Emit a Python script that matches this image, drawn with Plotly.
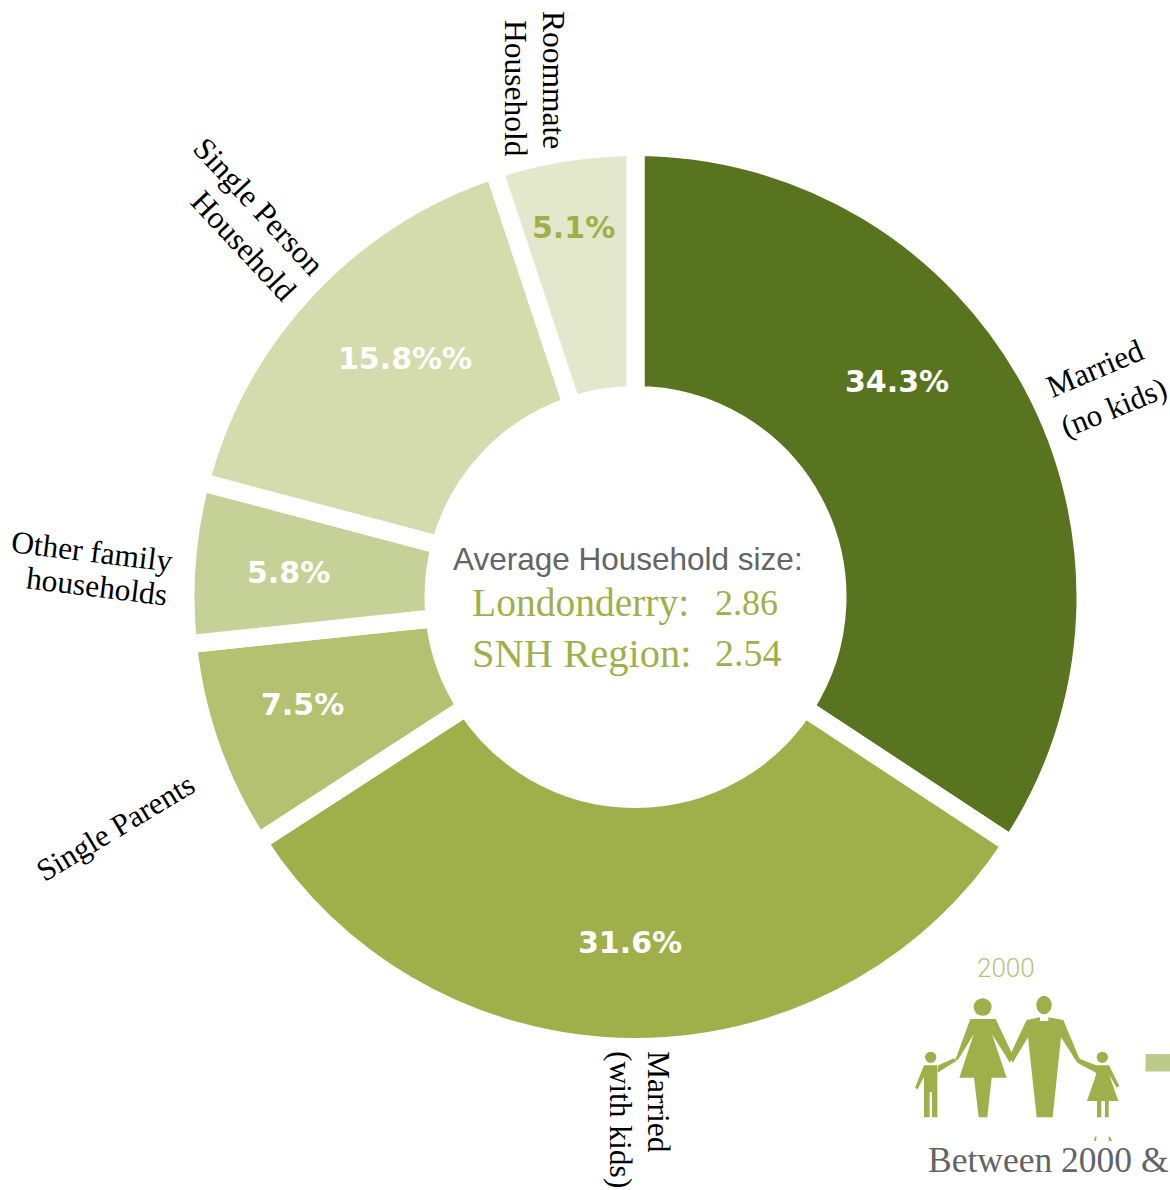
import plotly.graph_objects as go

W, H = 1170, 1190

# Household composition, clockwise from twelve o'clock
categories = ["Married (no kids)", "Married (with kids)", "Single Parents",
              "Other family households", "Single Person Household", "Roommate Household"]
shares = [34.3, 31.6, 7.5, 5.8, 15.8, 5.1]
share_labels = ["34.3%", "31.6%", "7.5%", "5.8%", "15.8%%", "5.1%"]
slice_colors = ["#58741f", "#9fb04a", "#b3c170", "#c5d196", "#d4dbad", "#e3e8cc"]

CX, CY, R = 635.5, 597, 450  # R includes the half of the white slice border
GREEN = "#9fb04a"
GREY = "#636466"
SERIF = "Liberation Serif"


def px(x):
    return x / W


def py(y):
    return 1 - y / H


fig = go.Figure(go.Pie(
    labels=categories, values=shares, sort=False, direction="clockwise", rotation=0,
    hole=202 / 450, textinfo="none", hoverinfo="skip", showlegend=False,
    marker=dict(colors=slice_colors, line=dict(color="white", width=18)),
    domain=dict(x=[px(CX - R), px(CX + R)], y=[py(CY + R), py(CY - R)]),
))


def note(text, x, y, size, color="black", family=SERIF, angle=0, anchor="center", weight=None):
    font = dict(family=family, size=size, color=color)
    if weight is not None:
        font["weight"] = weight
    fig.add_annotation(text=text, x=px(x), y=py(y), xref="paper", yref="paper", showarrow=False,
                       xanchor=anchor, yanchor="middle", textangle=angle,
                       font=font, borderpad=0, borderwidth=0)


# Value labels inside the ring
label_spots = [(897, 382), (630, 942), (302, 704), (288, 572), (405, 358), (573, 228)]
label_colors = ["white", "white", "white", "white", "white", GREEN]
for text, (x, y), color in zip(share_labels, label_spots, label_colors):
    note(text, x, y, 30, color=color, family="DejaVu Sans", weight="bold")

# Slice names around the ring, one annotation per line
NAME_SIZE = 31.5
note("Married", 1095, 368, NAME_SIZE, angle=-23)
note("(no kids)", 1113, 407, 31, angle=-22)
note("Married", 659, 1102, NAME_SIZE, angle=90)
note("(with kids)", 621, 1119, NAME_SIZE, angle=90)
note("Single Parents", 115, 827, 31, angle=-31)
note("Other family", 92, 551, NAME_SIZE, angle=7)
note("households", 97, 586, NAME_SIZE, angle=7)
note("Single Person", 259, 206, NAME_SIZE, angle=47)
note("Household", 243, 246, NAME_SIZE, angle=47)
note("Roommate", 553, 80, NAME_SIZE, angle=90)
note("Household", 515, 88, NAME_SIZE, angle=90)

# Text in the hole
note("Average Household size:", 628, 559, 31.5, color=GREY, family="Liberation Sans")
note("Londonderry:", 472, 603, 39.5, color=GREEN, anchor="left")
note("2.86", 715, 603, 36, color=GREEN, anchor="left")
note("SNH Region:", 472, 653, 40.5, color=GREEN, anchor="left")
note("2.54", 715, 653, 38, color=GREEN, anchor="left")

# Family pictogram, outlined on a 3x grid anchored at (890, 940)
def grid(x, y):
    return 890 + x / 3, 940 + y / 3


def polygon(points, color=GREEN):
    parts = []
    for i, (x, y) in enumerate(points):
        gx, gy = grid(x, y)
        parts.append(f"{'M' if i == 0 else 'L'}{px(gx):.5f},{py(gy):.5f}")
    fig.add_shape(type="path", path=" ".join(parts) + " Z", xref="paper", yref="paper",
                  fillcolor=color, line=dict(width=0), layer="above")


def head(x, y, rx, ry):
    gx, gy = grid(x, y)
    fig.add_shape(type="circle", xref="paper", yref="paper",
                  x0=px(gx - rx / 3), x1=px(gx + rx / 3), y0=py(gy + ry / 3), y1=py(gy - ry / 3),
                  fillcolor=GREEN, line=dict(width=0), layer="above")


head(278, 201, 27, 26)
head(462, 195, 23, 28)
head(122, 352, 17, 17)
head(637, 352, 17, 17)
polygon([(241, 237), (317, 237), (368, 345), (360, 368), (306, 283), (350, 413), (305, 413), (292, 532),
         (266, 532), (252, 413), (208, 413), (251, 283), (205, 358), (195, 362)])
polygon([(145, 376), (192, 355), (200, 362), (142, 398)])
polygon([(102, 376), (142, 376), (142, 532), (126, 532), (126, 457), (119, 457), (119, 532), (102, 532),
         (102, 410), (83, 448), (75, 443)])
polygon([(410, 240), (450, 232), (450, 243), (475, 243), (475, 232), (520, 240), (570, 360), (562, 368),
         (513, 292), (488, 532), (440, 532), (414, 292), (368, 368), (358, 350)])
polygon([(618, 376), (657, 376), (688, 438), (680, 443), (658, 405), (685, 483), (656, 483), (656, 532),
         (645, 532), (645, 483), (634, 483), (634, 532), (621, 532), (621, 483), (591, 483), (618, 405),
         (618, 398), (562, 368), (565, 355)])
polygon([(612, 603), (615, 590), (620, 590), (618, 603)])
polygon([(658, 603), (655, 590), (660, 590), (666, 603)])

# Bar stub running off the right edge
fig.add_shape(type="rect", xref="paper", yref="paper", x0=px(1145.5), x1=px(1170), y0=py(1071.5), y1=py(1054),
              fillcolor="#bcc98a", line=dict(width=0))

note("2000", 1006, 968, 26, color="#b4c47c", family="Roboto", weight=300)
note("Between 2000 &", 928, 1160, 35.5, color=GREY, anchor="left")

fig.update_layout(width=W, height=H, margin=dict(l=0, r=0, t=0, b=0),
                  paper_bgcolor="white", plot_bgcolor="white")
fig.write_html("out.html")
